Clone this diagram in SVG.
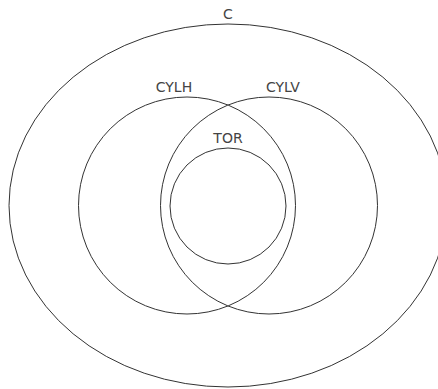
<svg xmlns="http://www.w3.org/2000/svg" width="438" height="389" viewBox="0 0 438 389">
<style>
.s{fill:none;stroke:#333;stroke-width:1}
.t{font-family:"DejaVu Sans",sans-serif;font-size:14px;fill:#444;text-anchor:middle}
</style>
<rect width="438" height="389" fill="#fff"/>
<g id="C"><ellipse class="s" cx="228" cy="205.5" rx="219" ry="181.5"/><text class="t" x="228" y="19">C</text></g>
<g id="CYLH"><circle class="s" cx="187" cy="205.5" r="108.5"/><text class="t" x="174" y="92">CYLH</text></g>
<g id="CYLV"><circle class="s" cx="269" cy="205.5" r="108.5"/><text class="t" x="283" y="92">CYLV</text></g>
<g id="TOR"><circle class="s" cx="228" cy="206" r="58"/><text class="t" x="228" y="143">TOR</text></g>
<g id="connectors"/>
</svg>
